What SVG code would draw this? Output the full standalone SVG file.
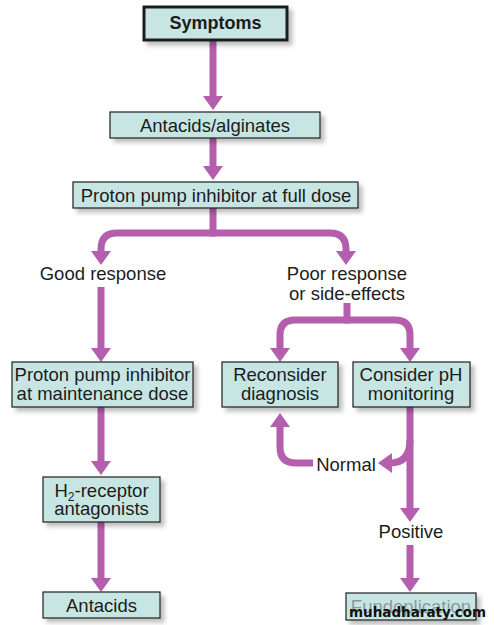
<svg xmlns="http://www.w3.org/2000/svg" width="495" height="625" viewBox="0 0 495 625">
<defs>
<filter id="sh" x="-10%" y="-20%" width="130%" height="160%">
<feDropShadow dx="4" dy="4" stdDeviation="2" flood-color="#000" flood-opacity="0.25"/>
</filter>
<marker id="ah" markerUnits="userSpaceOnUse" viewBox="0 0 14 20" markerWidth="14" markerHeight="20" refX="4" refY="10" orient="auto">
<path d="M0,0 L14,10 L0,20 z" fill="#b45ead"/>
</marker>
<style>
.box{fill:#c7e6e3;stroke:#1e1e1e;stroke-width:1.2;filter:url(#sh)}
.t{font-family:"Liberation Sans",Arial,sans-serif;font-size:18.5px;fill:#1c1c1c;text-anchor:middle}
.c{fill:none;stroke:#b45ead;stroke-width:7}
</style>
</defs>
<rect width="495" height="625" fill="#fff"/>
<g id="connectors">
<path class="c" d="M213,40 V100" marker-end="url(#ah)"/>
<path class="c" d="M213,138 V170" marker-end="url(#ah)"/>
<path class="c" d="M213,208 V233"/>
<path class="c" d="M216,233 H117 Q101,233 101,249 V255" marker-end="url(#ah)"/>
<path class="c" d="M210,233 H330 Q346,233 346,249 V255" marker-end="url(#ah)"/>
<path class="c" d="M101,287 V352" marker-end="url(#ah)"/>
<path class="c" d="M347,303 V320"/>
<path class="c" d="M350,320 H295 Q280,320 280,335 V352" marker-end="url(#ah)"/>
<path class="c" d="M344,320 H395 Q410,320 410,335 V352" marker-end="url(#ah)"/>
<path class="c" d="M410,407 V512" marker-end="url(#ah)"/>
<path class="c" d="M410,440 Q410,463 390,463 H388" marker-end="url(#ah)"/>
<path class="c" d="M313,463 H296 Q280,463 280,447 V423" marker-end="url(#ah)"/>
<path class="c" d="M410,545 V582" marker-end="url(#ah)"/>
<path class="c" d="M101,407 V465" marker-end="url(#ah)"/>
<path class="c" d="M101,522 V582" marker-end="url(#ah)"/>
</g>
<g id="symptoms">
<rect x="144" y="7" width="143" height="33" fill="#c7e6e3" stroke="#1e1e1e" stroke-width="3" filter="url(#sh)"/>
<text class="t" x="215.5" y="29" style="font-weight:bold;font-size:18px">Symptoms</text>
</g>
<g id="antacids-alginates">
<rect class="box" x="110" y="112" width="210" height="26"/>
<text class="t" x="215" y="132">Antacids/alginates</text>
</g>
<g id="ppi-full">
<rect class="box" x="73" y="182" width="285" height="26"/>
<text class="t" x="216" y="202">Proton pump inhibitor at full dose</text>
</g>
<g id="good-response">
<text class="t" x="103" y="280">Good response</text>
</g>
<g id="poor-response">
<text class="t" x="347" y="280">Poor response</text>
<text class="t" x="347" y="300">or side-effects</text>
</g>
<g id="ppi-maintenance">
<rect class="box" x="12" y="362" width="181" height="45"/>
<text class="t" x="102.5" y="381">Proton pump inhibitor</text>
<text class="t" x="102.5" y="400">at maintenance dose</text>
</g>
<g id="reconsider">
<rect class="box" x="222" y="362" width="116" height="45"/>
<text class="t" x="280" y="381">Reconsider</text>
<text class="t" x="280" y="400">diagnosis</text>
</g>
<g id="ph-monitoring">
<rect class="box" x="353" y="362" width="117" height="45"/>
<text class="t" x="411" y="381">Consider pH</text>
<text class="t" x="411" y="400">monitoring</text>
</g>
<g id="normal">
<text class="t" x="346" y="471">Normal</text>
</g>
<g id="h2">
<rect class="box" x="43" y="477" width="117" height="45"/>
<text class="t" x="101.5" y="497">H<tspan font-size="12" baseline-shift="-4">2</tspan>-receptor</text>
<text class="t" x="101.5" y="515">antagonists</text>
</g>
<g id="positive">
<text class="t" x="411" y="538">Positive</text>
</g>
<g id="antacids">
<rect class="box" x="43" y="592" width="117" height="26"/>
<text class="t" x="101.5" y="612">Antacids</text>
</g>
<g id="fundoplication">
<rect class="box" x="346" y="593" width="130" height="27"/>
<text class="t" x="411" y="613" style="fill:#8a9a9c">Fundoplication</text>
</g>
<text x="349" y="617" font-family="'DejaVu Sans',sans-serif" font-weight="bold" font-size="13.5" fill="#111">muhadharaty.com</text>
</svg>
